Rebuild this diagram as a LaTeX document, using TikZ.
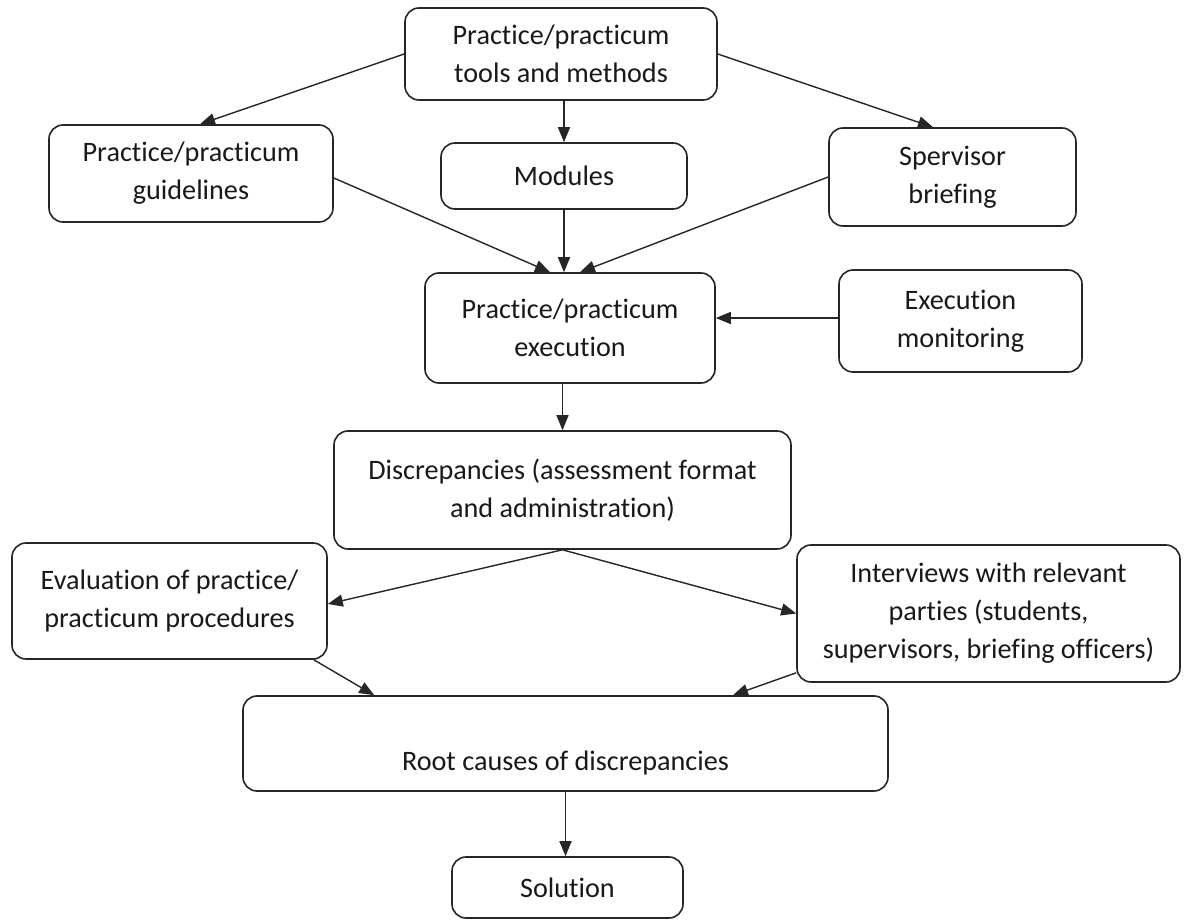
\documentclass[tikz,border=0pt]{standalone}
\usepackage{fontspec}
\setmainfont{Carlito}[Ligatures={NoCommon}]
\usetikzlibrary{arrows.meta,calc}
\begin{document}
\begin{tikzpicture}[x=0.5pt,y=-0.5pt,
  box/.style={draw=black!85, line width=0.8pt, rounded corners=7pt, align=center, inner sep=0pt,
              font=\fontsize{14.1}{19}\selectfont, text=black!90},
  arr/.style={draw=black!85, line width=0.7pt, -{Triangle[length=7.5pt,width=6pt]}}]
\fill[white] (0,0) rectangle (1191,920);
\useasboundingbox (0,0) rectangle (1191,920);

\node[box, minimum width=156pt, minimum height=46pt] (top) at (561,54) {Practice/practicum\\tools and methods};
\node[box, minimum width=142pt, minimum height=48.5pt] (guide) at (191,173.5) {Practice/practicum\\guidelines};
\node[box, minimum width=123pt, minimum height=33pt] (mod) at (564,176) {Modules};
\node[box, minimum width=123.5pt, minimum height=49pt] (sup) at (952.5,177) {Spervisor\\briefing};
\node[box, minimum width=145pt, minimum height=55pt] (exec) at (570,328) {Practice/practicum\\execution};
\node[box, minimum width=121.5pt, minimum height=51pt] (mon) at (960.5,321) {Execution\\monitoring};
\node[box, minimum width=228.5pt, minimum height=59pt] (disc) at (562.5,490) {Discrepancies (assessment format\\and administration)};
\node[box, minimum width=157.5pt, minimum height=58pt] (eval) at (169.5,601) {Evaluation of practice/\\practicum procedures};
\node[box, minimum width=191.5pt, minimum height=68.5pt] (int) at (988.5,613.5) {Interviews with relevant\\parties (students,\\supervisors, briefing officers)};
\node[box, minimum width=322.5pt, minimum height=47.5pt] (root) at (565.5,743.5) {\raisebox{-9.5pt}[\height][\depth]{Root causes of discrepancies}};
\node[box, minimum width=115.5pt, minimum height=30.5pt] (sol) at (567.5,887.5) {Solution};

\coordinate (mw) at ($(mon.west)+(0,-3)$);

\draw[arr] (top.west) -- ($(guide.north)+(9,0)$);
\draw[arr] (mod.north |- top.south) -- (mod.north);
\draw[arr] (top.east) -- ($(sup.north)+(-19.5,0)$);
\draw[arr] ($(guide.east)+(0,4.5)$) -- ($(exec.north)+(-20,0)$);
\draw[arr] (mod.south) -- (mod.south |- exec.north);
\draw[arr] (sup.west) -- ($(exec.north)+(10,0)$);
\draw[arr] (mw) -- (mw -| exec.east);
\draw[arr] (disc.north |- exec.south) -- (disc.north);
\draw[arr] (disc.south) -- ($(eval.east)+(0,3)$);
\draw[arr] (disc.south) -- (int.west);
\draw[arr] ($(eval.south east)+(-14,0)$) -- ($(root.north west)+(132,0)$);
\draw[arr] ($(int.south west)+(0,-10)$) -- ($(root.north)+(167.5,0)$);
\draw[arr] (root.south) -- (root.south |- sol.north);
\end{tikzpicture}
\end{document}
